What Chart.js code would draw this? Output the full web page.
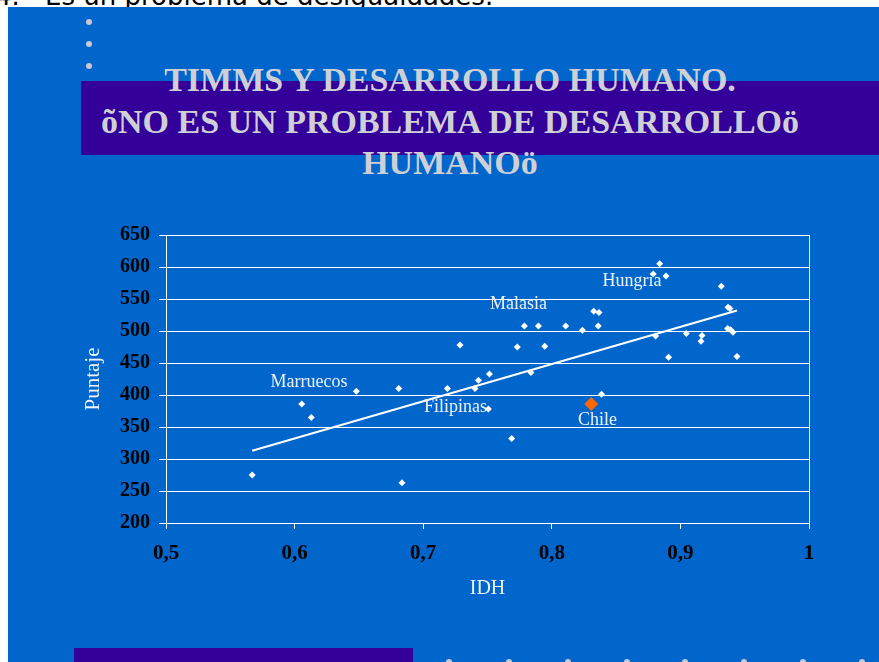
<!DOCTYPE html>
<html>
<head>
<meta charset="utf-8">
<script src="https://cdn.jsdelivr.net/npm/chart.js@4.4.0/dist/chart.umd.min.js"></script>
<style>
  html, body { margin: 0; padding: 0; background: #fff; }
  body { width: 879px; height: 662px; position: relative; overflow: hidden; }
  .top-text { position: absolute; top: -17px; font: 26px "DejaVu Sans"; line-height: 26px; color: #000; white-space: nowrap; }
  .slide { position: absolute; left: 8px; top: 7px; right: 0; bottom: 0; background: #0066cc; }
  .band { position: absolute; left: 81px; top: 81px; width: 798px; height: 74px; background: #330099; }
  .bullet { position: absolute; width: 6px; height: 6px; border-radius: 50%; background: #c8c8d2; }
  .title { position: absolute; left: 0; width: 900px; top: 59px; text-align: center;
           font: bold 34px "Liberation Serif"; line-height: 41.6px; color: #cfcfd6; }
  .foot { position: absolute; left: 74px; top: 648px; width: 339px; height: 20px; background: #330099; }
  #chart { position: absolute; left: 0; top: 200px; }
</style>
</head>
<body>
<div class="top-text" style="left:-5px">4.</div>
<div class="top-text" style="left:45px">Es un problema de desigualdades.</div>
<div class="slide"></div>
<div class="band"></div>
<div class="bullet" style="left:86px;top:19px"></div>
<div class="bullet" style="left:86px;top:41px"></div>
<div class="bullet" style="left:86px;top:63px"></div>
<div class="title">TIMMS Y DESARROLLO HUMANO.<br>õNO ES UN PROBLEMA DE DESARROLLOö<br>HUMANOö</div>
<div class="foot"></div>
<div id="dots"></div>
<canvas id="chart" width="879" height="430"></canvas>
<script>
// country points: IDH vs Puntaje
const idh = [0.567, 0.6055, 0.613, 0.648, 0.681, 0.6835, 0.7188, 0.7286, 0.7403, 0.743,
             0.7515, 0.7507, 0.7688, 0.7732, 0.7787, 0.7838, 0.7896, 0.7945, 0.8108, 0.8238,
             0.8326, 0.8367, 0.8361, 0.8387, 0.8789, 0.8839, 0.8888, 0.8808, 0.8908, 0.9046,
             0.9168, 0.916, 0.9318, 0.937, 0.9385, 0.9367, 0.939, 0.9409, 0.944];
const puntaje = [275, 386, 365, 406, 410, 263, 410, 478, 410, 423,
                 433, 378, 332, 475, 508, 435, 508, 476, 508, 501,
                 531, 529, 508, 401, 589, 605, 586, 492, 459, 496,
                 493, 484, 570, 537, 535, 504, 502, 498, 460];
const chileIdh = [0.8307];
const chilePuntaje = [386];
const trendIdh = [0.567, 0.944];
const trendPuntaje = [313, 532];
const xTickLabels = ['0,5', '0,6', '0,7', '0,8', '0,9', '1'];
const yTickLabels = ['200', '250', '300', '350', '400', '450', '500', '550', '600', '650'];
const countryNames = ['Marruecos', 'Filipinas', 'Malasia', 'Hungria', 'Chile'];
const countryLabelIdh = [0.6112, 0.7251, 0.7741, 0.8624, 0.8355];
const countryLabelPuntaje = [420, 381, 542, 578, 360];

// bottom bullet row of the slide
const dots = document.getElementById('dots');
[449, 509, 568, 627, 685, 744, 803, 862].forEach(x => {
  const d = document.createElement('div');
  d.className = 'bullet';
  d.style.left = (x - 3) + 'px';
  d.style.top = '659px';
  dots.appendChild(d);
});

const toPts = (xs, ys) => xs.map((x, i) => ({x: x, y: ys[i]}));

const countryLabels = {
  id: 'countryLabels',
  afterDatasetsDraw(chart) {
    const {ctx, scales: {x, y}} = chart;
    ctx.save();
    ctx.font = '18px "Liberation Serif"';
    ctx.fillStyle = '#eef2fa';
    ctx.textAlign = 'center';
    ctx.textBaseline = 'middle';
    countryNames.forEach((n, i) => {
      ctx.fillText(n, x.getPixelForValue(countryLabelIdh[i]), y.getPixelForValue(countryLabelPuntaje[i]));
    });
    ctx.restore();
  }
};

new Chart(document.getElementById('chart'), {
  type: 'scatter',
  data: {
    datasets: [
      {data: toPts(trendIdh, trendPuntaje), showLine: true, borderColor: '#ffffff', borderWidth: 2,
       pointRadius: 0, order: 3},
      {data: toPts(idh, puntaje), backgroundColor: '#ffffff', borderWidth: 0,
       pointStyle: 'rectRot', pointRadius: 3.5, order: 2},
      {data: toPts(chileIdh, chilePuntaje), backgroundColor: '#ff6600', borderWidth: 0,
       pointStyle: 'rectRot', pointRadius: 7, order: 1}
    ]
  },
  options: {
    responsive: false,
    animation: false,
    devicePixelRatio: 1,
    layout: {padding: {left: 0, right: 70, top: 35, bottom: 0}},
    plugins: {legend: {display: false}, tooltip: {enabled: false}},
    scales: {
      x: {
        type: 'linear', min: 0.5, max: 1,
        afterFit: s => { s.height = 107; },
        ticks: {stepSize: 0.1, padding: 12, color: '#000',
                font: {family: 'Liberation Serif', size: 21, weight: 'bold'},
                callback: (v, i) => xTickLabels[i]},
        grid: {color: c => c.index === 5 ? '#ffffff' : 'transparent', tickColor: '#ffffff', tickLength: 6},
        border: {color: '#ffffff', width: 1},
        title: {display: true, text: 'IDH', color: '#eef2fa', padding: {top: 0, bottom: 29},
                font: {family: 'Liberation Serif', size: 20}}
      },
      y: {
        min: 200, max: 650,
        afterFit: s => { s.width = 166; },
        ticks: {stepSize: 50, padding: 9, color: '#000',
                font: {family: 'Liberation Serif', size: 20, weight: 'bold'},
                callback: (v, i) => yTickLabels[i]},
        grid: {color: '#ffffff', tickColor: '#ffffff', tickLength: 7},
        border: {color: '#ffffff', width: 1},
        title: {display: true, text: 'Puntaje', color: '#eef2fa', padding: {top: 81, bottom: 0},
                font: {family: 'Liberation Serif', size: 21}}
      }
    }
  },
  plugins: [countryLabels]
});
</script>
</body>
</html>
